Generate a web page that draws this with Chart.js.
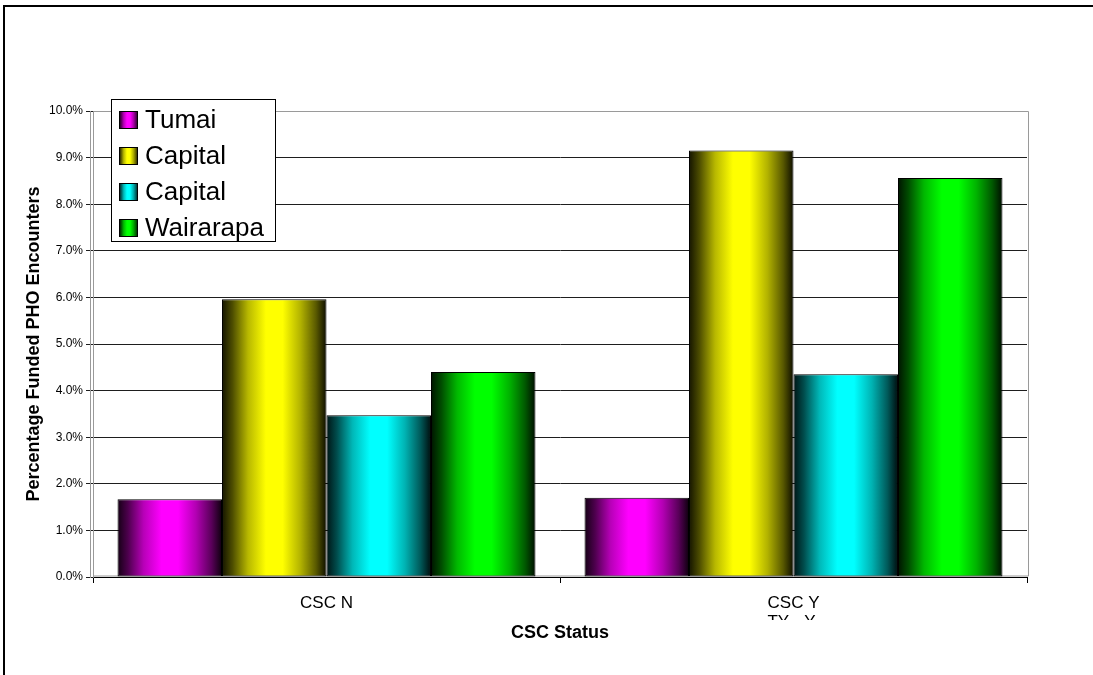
<!DOCTYPE html>
<html>
<head>
<meta charset="utf-8">
<title>CSC Status - Percentage Funded PHO Encounters</title>
<script src="https://cdn.jsdelivr.net/npm/chart.js@4/dist/chart.umd.min.js"></script>
<style>
  html, body { margin: 0; padding: 0; background: #ffffff; }
  #wrap { position: relative; width: 1093px; height: 675px; }
</style>
</head>
<body>
<div id="wrap"><canvas id="chart" width="1093" height="675"></canvas></div>
<script>
// Categories and series values (percent of funded PHO encounters)
const categories = ['CSC N', 'CSC Y'];
const seriesNames = ['Tumai', 'Capital', 'Capital', 'Wairarapa'];
const tumai = [1.67, 1.70];
const capitalYellow = [5.96, 9.15];
const capitalCyan = [3.47, 4.35];
const wairarapa = [4.40, 8.56];
const seriesColors = [[255, 0, 255], [255, 255, 0], [0, 255, 255], [0, 255, 0]];

const FONT = '"Liberation Sans", Arial, sans-serif';
const CAT_PCT = 0.895;

// Cylinder-like shading across each bar
const shadeStops = [[0, 0.08], [0.1, 0.3], [0.25, 0.72], [0.42, 1], [0.58, 1], [0.75, 0.7], [0.9, 0.35], [1, 0.05]];
function shade(rgb, f) {
  return 'rgb(' + rgb.map(c => Math.round(c * f)).join(',') + ')';
}
function makeGradient(c, x0, x1, rgb) {
  const g = c.createLinearGradient(x0, 0, x1, 0);
  shadeStops.forEach(([p, f]) => g.addColorStop(p, shade(rgb, f)));
  return g;
}
function barFill(ctx) {
  const chart = ctx.chart;
  const rgb = seriesColors[ctx.datasetIndex];
  const xs = chart.scales && chart.scales.x;
  if (!xs || !xs.width || ctx.dataIndex === undefined) return shade(rgb, 1);
  const n = chart.data.datasets.length;
  const cat = xs.width / categories.length;
  const group = cat * CAT_PCT;
  const w = group / n;
  const center = xs.getPixelForValue(ctx.dataIndex);
  const x0 = center - group / 2 + ctx.datasetIndex * w;
  return makeGradient(chart.ctx, x0, x0 + w, rgb);
}

// Outer frame, plot frame, legend box and clipped second label line
const decorations = {
  id: 'decorations',
  beforeDraw(chart) {
    const c = chart.ctx;
    c.save();
    c.strokeStyle = '#000';
    c.lineWidth = 2;
    c.beginPath();
    c.moveTo(4, 675);
    c.lineTo(4, 6);
    c.lineTo(1093, 6);
    c.stroke();
    c.restore();
  },
  beforeDatasetsDraw(chart) {
    const a = chart.chartArea;
    const c = chart.ctx;
    c.save();
    c.strokeStyle = '#9a9a9a';
    c.lineWidth = 1;
    c.beginPath();
    c.moveTo(a.left + 0.5, a.bottom);
    c.lineTo(a.left + 0.5, a.top + 0.5);
    c.lineTo(a.right + 1.5, a.top + 0.5);
    c.lineTo(a.right + 1.5, a.bottom - 1);
    c.lineTo(a.left, a.bottom - 1);
    c.stroke();
    c.beginPath();
    c.moveTo(a.left - 2.5, a.top);
    c.lineTo(a.left - 2.5, a.bottom + 1);
    c.stroke();
    c.restore();
  },
  afterDraw(chart) {
    const c = chart.ctx;
    c.save();
    // legend
    const box = { x: 111, y: 99, w: 164, h: 142 };
    c.fillStyle = '#fff';
    c.fillRect(box.x, box.y, box.w, box.h);
    c.strokeStyle = '#000';
    c.lineWidth = 1;
    c.strokeRect(box.x + 0.5, box.y + 0.5, box.w, box.h);
    c.font = '26px ' + FONT;
    c.textBaseline = 'middle';
    c.textAlign = 'left';
    seriesNames.forEach((name, i) => {
      const cy = 120 + i * 36;
      const sx = 119, sw = 19, sh = 18;
      c.fillStyle = makeGradient(c, sx, sx + sw, seriesColors[i]);
      c.fillRect(sx, cy - sh / 2, sw, sh);
      c.strokeStyle = '#000';
      c.strokeRect(sx + 0.5, cy - sh / 2 + 0.5, sw - 1, sh - 1);
      c.fillStyle = '#000';
      c.fillText(name, 145, cy + 1);
    });
    // second line of the CSC Y label, cut off by the axis title band
    const xs = chart.scales.x;
    c.beginPath();
    c.rect(xs.left, 612, xs.width, 8);
    c.clip();
    c.font = '17px ' + FONT;
    c.textAlign = 'center';
    c.textBaseline = 'top';
    c.fillStyle = '#000';
    c.fillText('TY - Y', xs.getPixelForValue(1) - 2, 614);
    c.restore();
  }
};

const datasetValues = [tumai, capitalYellow, capitalCyan, wairarapa];

new Chart(document.getElementById('chart'), {
  type: 'bar',
  data: {
    labels: categories,
    datasets: datasetValues.map((vals, i) => ({
      label: seriesNames[i],
      data: vals,
      backgroundColor: barFill,
      borderColor: '#000',
      borderWidth: 1,
      borderSkipped: false,
      categoryPercentage: CAT_PCT,
      barPercentage: 1
    }))
  },
  options: {
    responsive: false,
    animation: false,
    layout: { padding: { top: 111, right: 66, left: 0, bottom: 0 } },
    plugins: {
      legend: { display: false },
      tooltip: { enabled: false }
    },
    scales: {
      x: {
        afterFit(s) { s.height = 98; },
        grid: { offset: true, drawOnChartArea: false, drawTicks: true, tickLength: 6, color: '#000' },
        border: { color: '#000', width: 1 },
        ticks: { color: '#000', padding: 10, maxRotation: 0, font: { family: FONT, size: 17 } },
        title: { display: true, text: 'CSC Status', color: '#000', padding: { bottom: 31 }, font: { family: FONT, size: 18, weight: 'bold' } }
      },
      y: {
        min: 0,
        max: 10,
        afterFit(s) { s.width = 93; },
        grid: { color: '#1e1e1e', lineWidth: 1, tickLength: 7 },
        border: { color: '#8a8a8a', width: 1 },
        ticks: {
          stepSize: 1,
          padding: 3,
          color: '#000',
          font: { family: FONT, size: 12 },
          callback: v => v.toFixed(1) + '%'
        },
        title: { display: true, text: 'Percentage Funded PHO Encounters', color: '#000', padding: { top: 23 }, font: { family: FONT, size: 18, weight: 'bold' } }
      }
    }
  },
  plugins: [decorations]
});
</script>
</body>
</html>
